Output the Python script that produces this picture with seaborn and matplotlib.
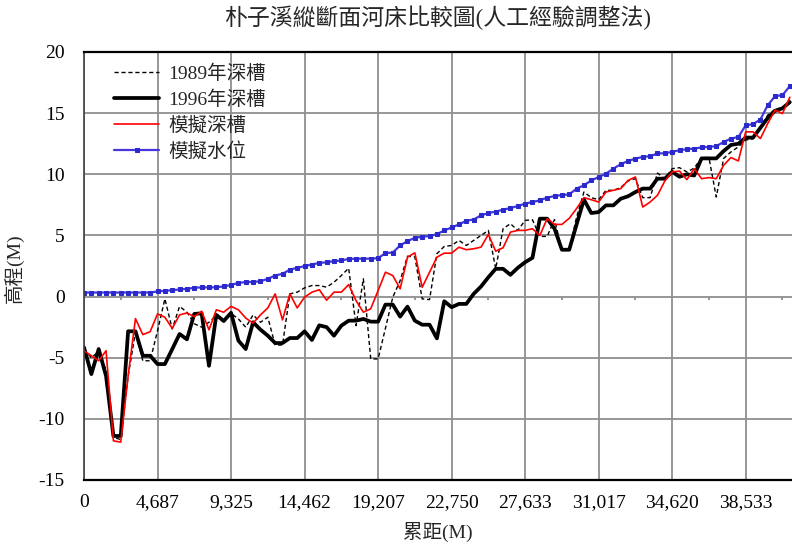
import numpy as np
import pandas as pd
import matplotlib
matplotlib.use("Agg")
import matplotlib.pyplot as plt
import seaborn as sns

# ---- data ----
tick_labels = ["0", "4,687", "9,325", "14,462", "19,207", "22,750",
               "27,633", "31,017", "34,620", "38,533"]

depth_1989 = [-4.3, -5.0, -4.5, -6.0, -11.5, -11.7, -6.5, -2.9, -5.25, -5.25,
              -2.8, -0.19, -2.65, -0.8, -1.28, -2.22, -2.5, -2.1, -1.56, -1.97,
              -1.37, -1.83, -2.51, -1.5, -2.1, -1.69, -3.96, -3.96, 0.22, 0.36,
              0.71, 0.9, 0.9, 0.77, 1.17, 1.72, 2.32, -2.38, 1.45, -5.1,
              -5.1, -2.6, -0.05, 1.3, 3.3, 3.25, -0.19, -0.25, 3.5, 4.1,
              4.18, 4.59, 4.18, 4.59, 5.0, 5.41, 2.27, 5.55, 5.96, 5.41,
              6.23, 6.28, 4.92, 4.92, 6.3, 3.83, 3.83, 6.5, 8.55, 8.09,
              7.92, 8.69, 8.69, 8.91, 9.45, 9.64, 8.09, 8.09, 10.1, 9.64,
              10.46, 10.54, 10.19, 10.5, 11.37, 11.37, 8.14, 11.3, 11.83, 12.24,
              12.8, 12.9, 13.88, 14.84, 15.3, 15.3, 16.1]

depth_1996 = [-4.15, -6.34, -4.29, -6.5, -11.4, -11.4, -2.84, -2.84, -4.84, -4.84,
              -5.52, -5.52, -4.3, -3.06, -3.5, -1.42, -1.37, -5.66, -1.5, -2.0,
              -1.33, -3.6, -4.29, -2.1, -2.7, -3.2, -3.8, -3.8, -3.39, -3.39,
              -2.84, -3.55, -2.35, -2.5, -3.2, -2.38, -1.97, -1.97, -1.83, -2.05,
              -2.05, -0.66, -0.66, -1.64, -0.82, -1.97, -2.3, -2.3, -3.42, -0.38,
              -0.87, -0.6, -0.6, 0.22, 0.82, 1.58, 2.27, 2.27, 1.78, 2.35,
              2.81, 3.17, 6.37, 6.37, 5.55, 3.83, 3.83, 5.9, 7.93, 6.83,
              6.91, 7.46, 7.46, 8.0, 8.2, 8.55, 8.83, 8.83, 9.64, 9.64,
              10.2, 9.8, 10.0, 9.9, 11.3, 11.3, 11.3, 11.9, 12.4, 12.5,
              13.0, 13.0, 13.8, 14.6, 15.2, 15.4, 15.9]

sim_depth = [-4.43, -4.84, -5.25, -4.43, -11.8, -11.9, -6.5, -1.8, -3.11, -2.87,
             -1.42, -1.69, -2.6, -1.5, -1.34, -1.64, -1.2, -2.72, -1.08, -1.28,
             -0.8, -1.08, -1.76, -2.17, -1.5, -0.93, 0.22, -1.91, 0.22, -0.93,
             -0.05, 0.36, 0.56, -0.3, 0.36, 0.36, 0.98, -0.33, -1.28, -1.0,
             0.49, 1.99, 1.72, 0.63, 3.22, 3.58, 0.76, 1.99, 3.22, 3.55,
             3.55, 4.04, 3.83, 3.91, 4.04, 5.08, 3.71, 3.99, 5.27, 5.41,
             5.41, 5.55, 5.0, 6.37, 5.9, 5.9, 6.4, 7.2, 8.09, 7.92,
             7.73, 8.55, 8.69, 8.83, 9.5, 9.78, 7.32, 7.73, 8.28, 9.45,
             10.19, 10.26, 9.56, 10.46, 9.64, 9.73, 9.64, 10.74, 11.37, 11.09,
             13.47, 13.47, 12.92, 14.15, 15.25, 14.97, 16.3]

sim_water = [0.33, 0.33, 0.33, 0.33, 0.33, 0.33, 0.33, 0.33, 0.33, 0.33,
             0.42, 0.47, 0.52, 0.58, 0.63, 0.72, 0.75, 0.75, 0.76, 0.83,
             0.95, 1.12, 1.18, 1.2, 1.25, 1.45, 1.72, 1.86, 2.2, 2.35,
             2.49, 2.62, 2.75, 2.8, 2.9, 2.95, 3.08, 3.09, 3.1, 3.1,
             3.14, 3.55, 3.6, 4.18, 4.54, 4.8, 4.9, 4.95, 5.1, 5.41,
             5.65, 5.9, 6.2, 6.3, 6.64, 6.83, 6.95, 7.1, 7.24, 7.4,
             7.6, 7.73, 7.87, 8.09, 8.22, 8.3, 8.35, 8.83, 9.1, 9.5,
             9.78, 10.05, 10.46, 10.82, 11.09, 11.28, 11.42, 11.48, 11.7, 11.72,
             11.83, 11.97, 12.05, 12.1, 12.2, 12.24, 12.3, 12.64, 12.92, 13.05,
             14.0, 14.1, 14.48, 15.65, 16.39, 16.47, 17.2]

series_names = ["1989年深槽", "1996年深槽", "模擬深槽", "模擬水位"]
title = "朴子溪縱斷面河床比較圖(人工經驗調整法)"
x_title = "累距(M)"
y_title = "高程(M)"

# ---- style ----
sns.set_theme(style="white")
plt.rcParams["font.family"] = ["Liberation Serif", "Noto Sans CJK TC"]
plt.rcParams["axes.unicode_minus"] = False

W, H = 792, 546
fig = plt.figure(figsize=(W / 100, H / 100), dpi=100)
ax = fig.add_axes([84 / W, 1 - 480 / H, (W - 84) / W, 428 / H])

n = len(depth_1996)
df = pd.DataFrame({
    "idx": np.arange(n),
    series_names[0]: depth_1989,
    series_names[1]: depth_1996,
    series_names[2]: sim_depth,
    series_names[3]: sim_water,
})

sns.lineplot(data=df, x="idx", y=series_names[0], ax=ax, color="black",
             linewidth=1.0, linestyle=(0, (3, 2)), label=series_names[0])
sns.lineplot(data=df, x="idx", y=series_names[1], ax=ax, color="black",
             linewidth=2.7, label=series_names[1])
sns.lineplot(data=df, x="idx", y=series_names[2], ax=ax, color="#ff0000",
             linewidth=1.2, label=series_names[2])
sns.lineplot(data=df, x="idx", y=series_names[3], ax=ax, color="#4536e0",
             linewidth=1.6, marker="s", markersize=2.8,
             markerfacecolor="#2a2acc", markeredgecolor="#2a2acc",
             label=series_names[3])

# ---- axes ----
ax.set_xlim(0, 96.3)
ax.set_ylim(-15, 20)
ax.set_yticks(range(-15, 21, 5))
ax.set_xticks(range(0, 91, 10))
ax.set_xticklabels(tick_labels)
ax.grid(True, color="#8f8f8f", linewidth=1.3)
ax.set_axisbelow(True)
ax.vlines(range(5, 96, 10), -0.28, 0, color="#8f8f8f", linewidth=1.3)
ax.tick_params(axis="both", length=0, labelsize=14, colors="black")
ax.tick_params(axis="x", pad=10)
ax.tick_params(axis="y", pad=14)
ax.set_xlabel("")
ax.set_ylabel("")

for s in ["top", "bottom"]:
    ax.spines[s].set_color("black")
    ax.spines[s].set_linewidth(1.6)
ax.spines["left"].set_color("#404040")
ax.spines["left"].set_linewidth(1.2)
ax.spines["right"].set_visible(False)

ax.legend(loc="upper left", bbox_to_anchor=(0.042, 0.971), frameon=False,
          fontsize=14, handlelength=2.35, handletextpad=0.45,
          labelspacing=0.39, borderpad=0, borderaxespad=0)

fig.text(438 / W, 1 - 18 / H, title, ha="center", va="center", fontsize=16.5)
fig.text(438 / W, 1 - 532 / H, x_title, ha="center", va="center", fontsize=14)
fig.text(14 / W, 1 - 268 / H, y_title, ha="center", va="center",
         rotation=90, fontsize=14)

fig.savefig("out.png", dpi=100)
